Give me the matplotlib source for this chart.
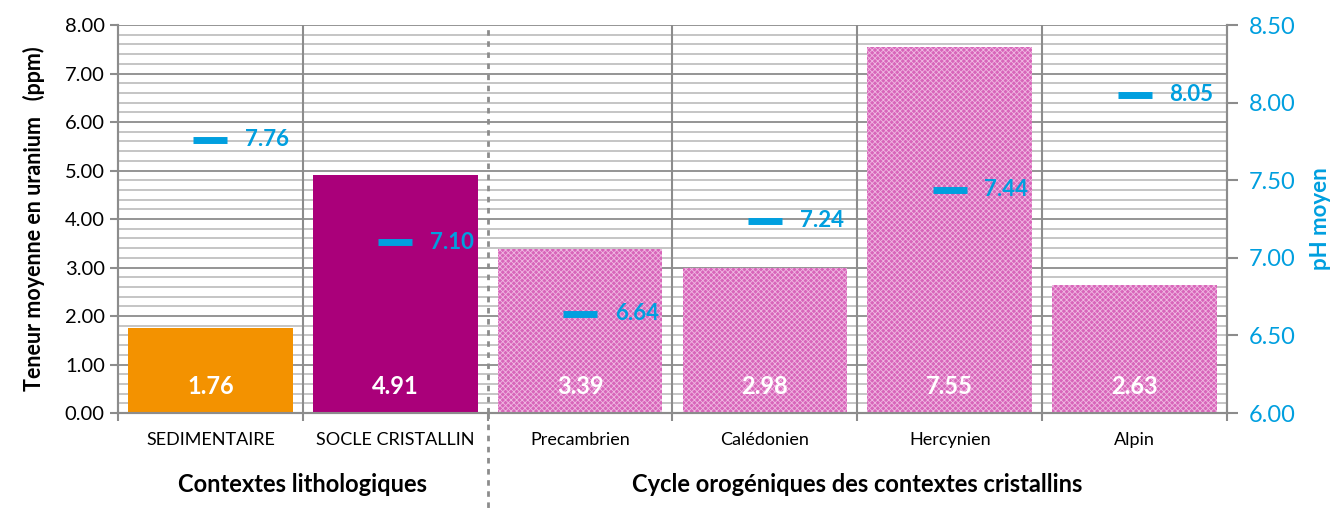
import matplotlib
matplotlib.use("Agg")
import matplotlib.pyplot as plt
import numpy as np
from matplotlib.ticker import MultipleLocator, FormatStrFormatter

categories = ["SEDIMENTAIRE", "SOCLE CRISTALLIN", "Precambrien", "Calédonien", "Hercynien", "Alpin"]
uranium = [1.76, 4.91, 3.39, 2.98, 7.55, 2.63]
ph = [7.76, 7.10, 6.64, 7.24, 7.44, 8.05]
groups = ["Contextes lithologiques", "Cycle orogéniques des contextes cristallins"]
group_spans = [(0, 1), (2, 5)]

plt.rcParams['font.family'] = ['Lato', 'DejaVu Sans']

fig = plt.figure(figsize=(13.43, 5.11), dpi=100)
ax = fig.add_axes([118/1343, 1-413/511, (1227-118)/1343, (413-25)/511])
ax2 = ax.twinx()

x = np.arange(len(categories))
colors = ['#F39200', '#AA007A', '#D866BA', '#D866BA', '#D866BA', '#D866BA']
hatches = [None, None, 'xxxxxx', 'xxxxxx', 'xxxxxx', 'xxxxxx']
plt.rcParams['hatch.linewidth'] = 0.6
for i in range(len(categories)):
    b = ax.bar(x[i], uranium[i], width=0.89, color=colors[i], zorder=3)
    if hatches[i]:
        b[0].set_hatch(hatches[i])
        b[0].set_edgecolor('#F0B8E2')
        b[0].set_linewidth(0)
    ax.text(x[i], 0.55, f"{uranium[i]:.2f}", ha='center', va='center', color='white',
            fontsize=17, fontweight='bold', zorder=5)

ax.set_xlim(-0.5, len(categories)-0.5)
ax.set_ylim(0, 8)
ax.yaxis.set_major_locator(MultipleLocator(1))
ax.yaxis.set_minor_locator(MultipleLocator(0.2))
ax.yaxis.set_major_formatter(FormatStrFormatter('%.2f'))
ax.grid(axis='y', which='major', color='#8C8C8C', linewidth=1.3, zorder=0)
ax.grid(axis='y', which='minor', color='#C0C0C0', linewidth=1.3, zorder=0)
ax.set_axisbelow(True)
for b in np.arange(0.5, len(categories)-0.5, 1):
    if b == 1.5:
        continue
    ax.axvline(b, color='#8C8C8C', linewidth=1.5, zorder=1)
ax.plot([1.5, 1.5], [0, 1], transform=ax.get_xaxis_transform(), color='#8C8C8C',
        linewidth=2, linestyle=(0, (2, 2)), zorder=6)
ax.plot([1.5, 1.5], [0, -0.26], transform=ax.get_xaxis_transform(), color='#8C8C8C',
        linewidth=2, linestyle=(0, (2, 2)), clip_on=False, zorder=6)

ax.set_xticks(x)
ax.set_xticklabels(categories, fontsize=13)
ax.set_xticks(np.arange(-0.5, len(categories), 1), minor=True)
ax.tick_params(axis='x', which='major', length=0, pad=14)
ax.tick_params(axis='x', which='minor', length=6, color='#8C8C8C', width=1.5)
ax.tick_params(axis='y', which='major', labelsize=14.5, length=6, color='#8C8C8C', width=1.5)
ax.tick_params(axis='y', which='minor', length=0)
ax.set_ylabel("Teneur moyenne en uranium   (ppm)", fontsize=15.5, fontweight='bold', labelpad=14)

for s in ['top']:
    ax.spines[s].set_visible(False)
    ax2.spines[s].set_visible(False)
for s in ['left', 'bottom', 'right']:
    ax.spines[s].set_color('#8C8C8C'); ax.spines[s].set_linewidth(1.5)
    ax2.spines[s].set_color('#8C8C8C'); ax2.spines[s].set_linewidth(1.5)

blue = '#009FDF'
ax2.set_ylim(6, 8.5)
ax2.yaxis.set_major_locator(MultipleLocator(0.5))
ax2.yaxis.set_major_formatter(FormatStrFormatter('%.2f'))
ax2.tick_params(axis='y', labelsize=17, labelcolor=blue, length=8, color='#8C8C8C', width=1.5, pad=8)
ax2.plot(x, ph, linestyle='none', marker='_', markersize=25, markeredgewidth=5, color=blue, zorder=6)
for i in range(len(categories)):
    ax2.annotate(f"{ph[i]:.2f}", (x[i], ph[i]), xytext=(25, 0), textcoords='offset points',
                 ha='left', va='center', color=blue, fontsize=16, fontweight='bold')
ax2.set_ylabel("pH moyen", fontsize=16, fontweight='bold', color=blue, labelpad=10)
ax.set_zorder(1); ax2.set_zorder(2); ax2.patch.set_visible(False)

for g, (a, b) in zip(groups, group_spans):
    ax.text((a+b)/2, -0.185, g, transform=ax.get_xaxis_transform(), ha='center', va='center',
            fontsize=17, fontweight='bold')

fig.savefig("out.png", dpi=100)
